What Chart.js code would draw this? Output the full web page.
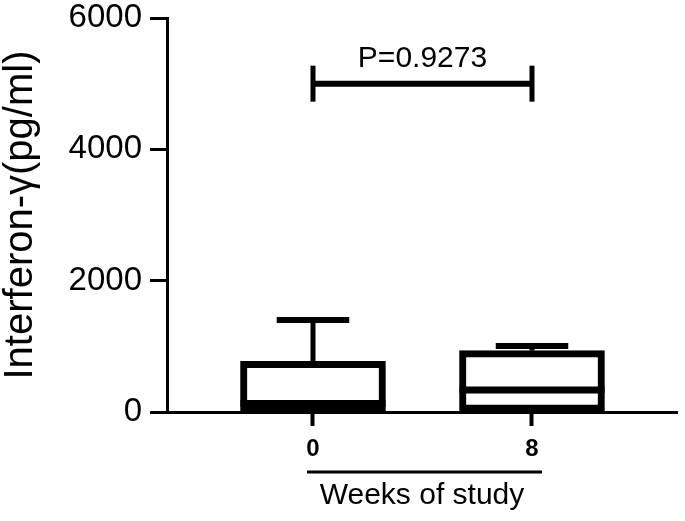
<!DOCTYPE html>
<html>
<head>
<meta charset="utf-8">
<script src="https://cdn.jsdelivr.net/npm/chart.js@4/dist/chart.umd.min.js"></script>
<style>
  html, body { margin: 0; padding: 0; background: #fff; }
  canvas { display: block; }
</style>
</head>
<body>
<canvas id="ifnChart" width="685" height="521"></canvas>
<script>
// --- data (pg/ml) ---
const WEEKS = [0, 8];
const MIN_VAL = [0, 0];
const Q1 = [10, 10];
const MEDIAN = [130, 335];
const Q3 = [770, 935];
const MAX_VAL = [1400, 1005];
const Y_TICKS = [0, 2000, 4000, 6000];
const P_LABEL = 'P=0.9273';
const BRACKET_AT = 5000;

const FONT = "'Liberation Sans', Arial, Helvetica, sans-serif";
Chart.defaults.font.family = FONT;
Chart.defaults.color = '#000';

function seg(ctx, x1, y1, x2, y2) {
    ctx.beginPath();
    ctx.moveTo(x1, y1);
    ctx.lineTo(x2, y2);
    ctx.stroke();
}

// median, whiskers, caps, p-value bracket and the line under the week labels
const boxExtras = {
    id: 'boxExtras',
    afterDatasetsDraw(chart) {
        const { ctx, scales: { x, y } } = chart;
        const meta = chart.getDatasetMeta(0);
        ctx.save();
        ctx.strokeStyle = '#000';
        ctx.fillStyle = '#000';
        ctx.lineCap = 'butt';
        meta.data.forEach((bar, i) => {
            const half = bar.width / 2;
            const yMed = y.getPixelForValue(MEDIAN[i]);
            const yQ3 = y.getPixelForValue(Q3[i]);
            const yMax = y.getPixelForValue(MAX_VAL[i]);
            const yQ1 = y.getPixelForValue(Q1[i]);
            const yMin = y.getPixelForValue(MIN_VAL[i]);
            ctx.lineWidth = 7;
            seg(ctx, bar.x - half, yMed, bar.x + half, yMed);
            ctx.lineWidth = 5;
            seg(ctx, bar.x, yQ3, bar.x, yMax);
            seg(ctx, bar.x, yQ1, bar.x, yMin);
            ctx.lineWidth = 6;
            seg(ctx, bar.x - half / 2, yMax, bar.x + half / 2, yMax);
        });

        // significance bracket
        const bx0 = x.getPixelForValue(WEEKS[0]);
        const bx1 = x.getPixelForValue(WEEKS[1]);
        const by = y.getPixelForValue(BRACKET_AT);
        ctx.lineWidth = 6;
        seg(ctx, bx0, by, bx1, by);
        ctx.lineWidth = 5;
        seg(ctx, bx0, by - 18, bx0, by + 18);
        seg(ctx, bx1, by - 18, bx1, by + 18);
        ctx.font = '30px ' + FONT;
        ctx.textAlign = 'center';
        ctx.textBaseline = 'bottom';
        ctx.fillText(P_LABEL, (bx0 + bx1) / 2, by - 10);
        ctx.restore();
    },
    afterDraw(chart) {
        const { ctx, scales: { x } } = chart;
        const ly = x.top + 60;
        ctx.save();
        ctx.strokeStyle = '#000';
        ctx.lineWidth = 3;
        seg(ctx, x.getPixelForValue(WEEKS[0]) - 6, ly, x.getPixelForValue(WEEKS[1]) + 10, ly);
        ctx.restore();
    }
};

const ctxIfn = document.getElementById('ifnChart').getContext('2d');
new Chart(ctxIfn, {
    type: 'bar',
    data: {
        datasets: [{
            label: 'Interferon-γ',
            data: WEEKS.map((w, i) => ({ x: w, y: [Q1[i], Q3[i]] })),
            backgroundColor: '#fff',
            borderColor: '#000',
            borderWidth: 7,
            borderSkipped: false,
            barThickness: 145
        }]
    },
    options: {
        responsive: false,
        animation: false,
        layout: { padding: { top: 18, right: 8, bottom: 0, left: 0 } },
        plugins: { legend: { display: false }, tooltip: { enabled: false } },
        scales: {
            x: {
                type: 'linear',
                min: -5.333,
                max: 13.297,
                offset: false,
                afterBuildTicks: s => { s.ticks = WEEKS.map(v => ({ value: v })); },
                afterFit: s => { s.height = 109; s.paddingLeft = 0; s.paddingRight = 0; },
                ticks: {
                    padding: 9,
                    font: { size: 24, weight: 'bold' },
                    callback: v => String(v)
                },
                grid: { display: true, drawOnChartArea: false, offset: false, tickLength: 14, tickWidth: 4, color: '#000' },
                border: { display: true, color: '#000', width: 3 },
                title: {
                    display: true,
                    text: 'Weeks of study',
                    font: { size: 30 },
                    padding: { top: 0, bottom: 7 }
                }
            },
            y: {
                min: 0,
                max: 6000,
                afterBuildTicks: s => { s.ticks = Y_TICKS.map(v => ({ value: v })); },
                afterFit: s => { s.width = 167; s.paddingTop = 0; s.paddingBottom = 0; },
                ticks: { padding: 8, font: { size: 33, lineHeight: 1 }, callback: v => String(v) },
                grid: { display: true, drawOnChartArea: false, tickLength: 17, tickWidth: 3, color: '#000' },
                border: { display: true, color: '#000', width: 3 },
                title: {
                    display: true,
                    text: 'Interferon-γ(pg/ml)',
                    font: { size: 40, lineHeight: 1 },
                    padding: { top: 1, bottom: 0 }
                }
            }
        }
    },
    plugins: [boxExtras]
});
</script>
</body>
</html>
